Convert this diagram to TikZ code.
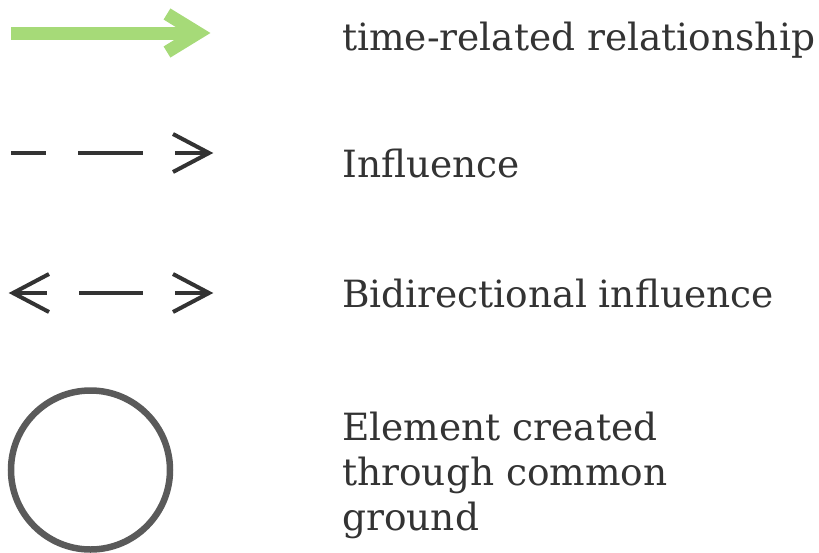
\documentclass[tikz,border=0pt]{standalone}
\usepackage{fontspec}
\setmainfont{DejaVu Serif}
\definecolor{timegreen}{RGB}{166,218,120}
\definecolor{inkdark}{RGB}{51,51,51}
\definecolor{ringgray}{RGB}{90,90,90}
\begin{document}
\begin{tikzpicture}[x=1pt,y=-1pt,
  legendtext/.style={anchor=base west,inner sep=0pt,text=inkdark,
    font=\fontsize{37.5}{45}\selectfont,align=left},
  timearrow/.style={draw=timegreen,line width=13pt},
  inflline/.style={draw=inkdark,line width=4pt},
  barb/.style={draw=inkdark,line width=4pt,miter limit=10}]
\useasboundingbox (0,0) rectangle (819,552);

% time-related relationship
\coordinate (t0) at (11,33);
\coordinate (t1) at (198,33);
\draw[timearrow] (t0) -- (t1);
\draw[timearrow,line join=miter,miter limit=10] (167,14) -- (t1) -- (167,52);
\node[legendtext] (ltime) at (342,50) {time-related relationship};

% influence
\coordinate (i0) at (11,153);
\coordinate (i1) at (208,153);
\draw[inflline,dash pattern=on 65pt off 32pt,dash phase=30pt] (i0) -- (i1);
\draw[barb,line join=miter] (173,134) -- (209,153) -- (173,172);
\node[legendtext] (linfl) at (342,177) {Influence};

% bidirectional influence
\coordinate (b0) at (13,293);
\coordinate (b1) at (208,293);
\draw[inflline,dash pattern=on 34pt off 32pt on 64pt off 32pt] (b0) -- (b1);
\draw[barb,line join=miter] (49,274) -- (13,293) -- (49,312);
\draw[barb,line join=miter] (173,274) -- (209,293) -- (173,312);
\node[legendtext] (lbid) at (342,307) {Bidirectional influence};

% element created through common ground (base anchor sits on the last line)
\node[draw=ringgray,line width=6.5pt,circle,minimum size=159pt,inner sep=0pt] (ring) at (90.5,470) {};
\node[legendtext] (lcommon) at (342,530) {Element created\\through common\\ground};
\end{tikzpicture}
\end{document}
